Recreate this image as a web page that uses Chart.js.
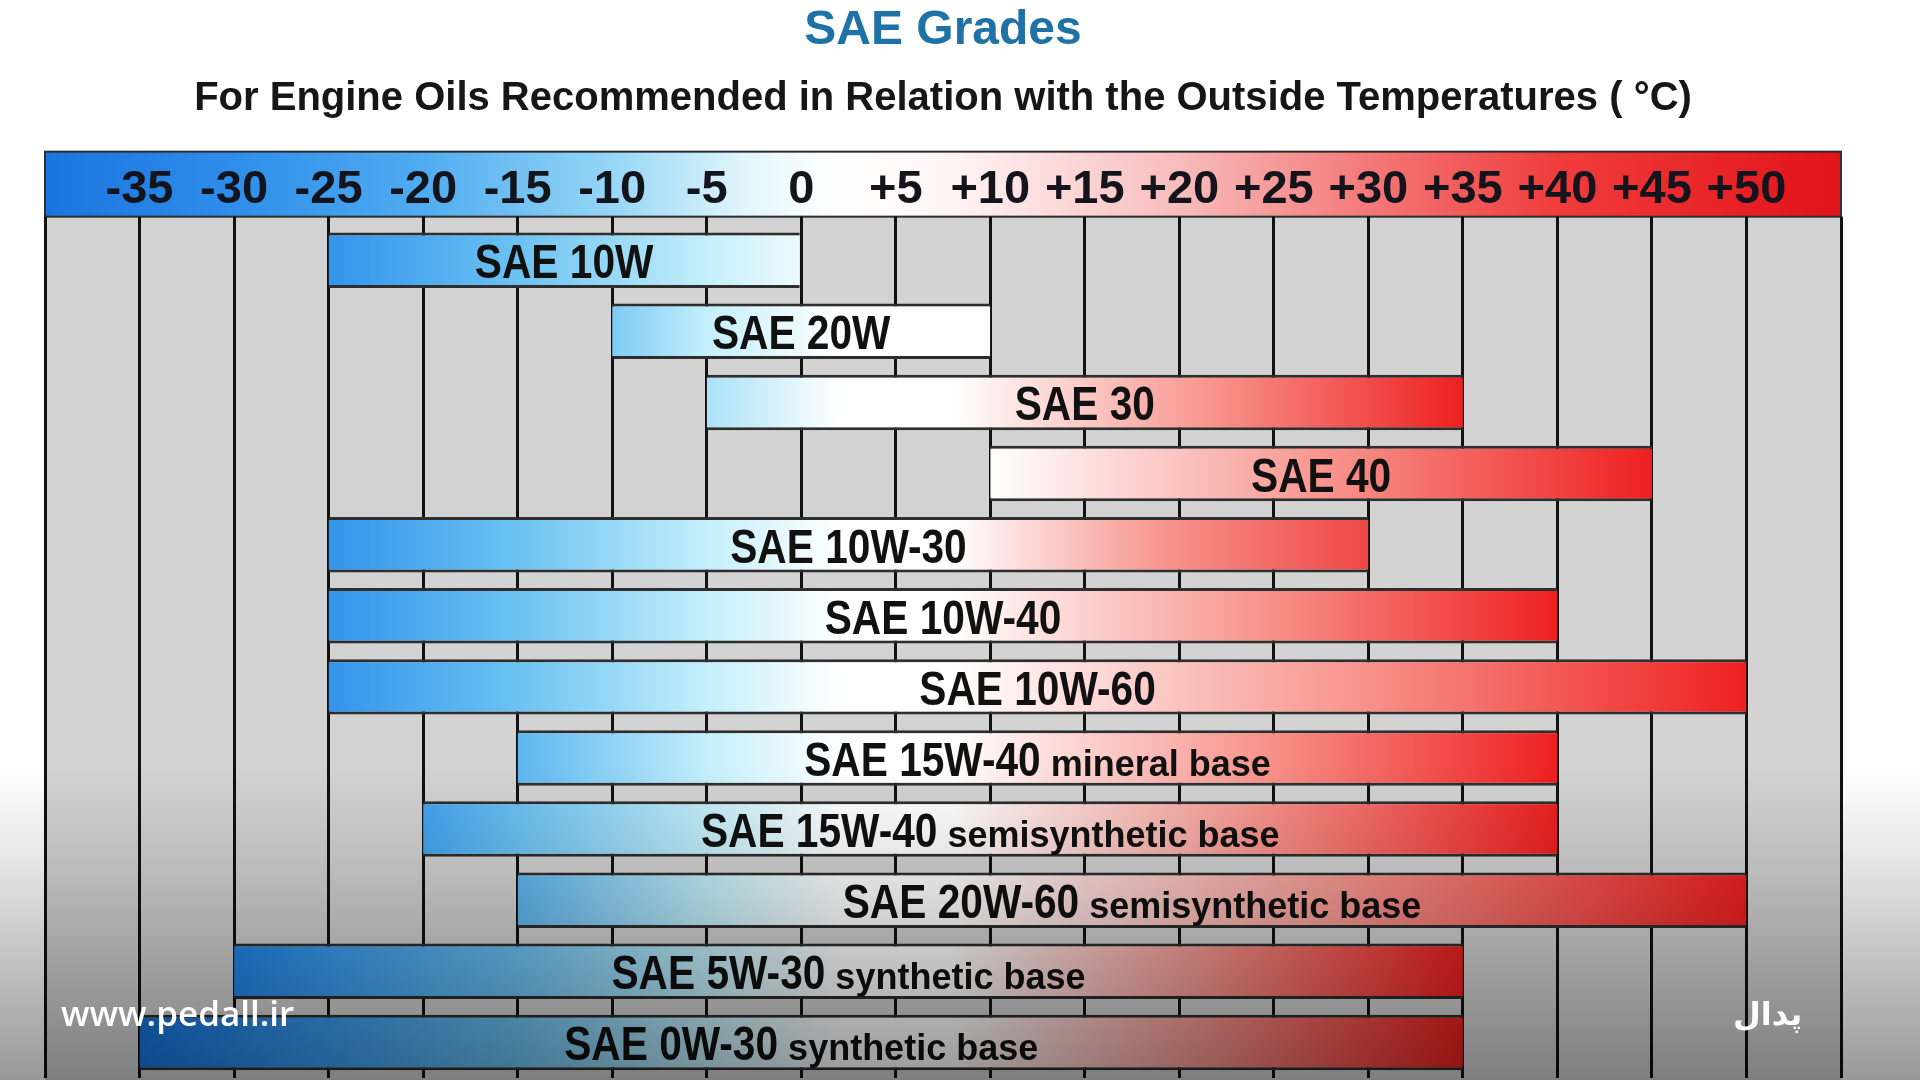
<!DOCTYPE html>
<html>
<head>
<meta charset="utf-8">
<title>SAE Grades</title>
<script src="https://cdn.jsdelivr.net/npm/chart.js@4.4.1/dist/chart.umd.min.js"></script>
<style>
  html, body { margin: 0; padding: 0; background: #fff; overflow: hidden; }
  #wrap { position: relative; width: 1920px; height: 1080px; }
  #shade {
    position: absolute; left: 0; top: 0; right: 0; bottom: 0; pointer-events: none;
    background: linear-gradient(to bottom, rgba(0,0,0,0) 0%, rgba(0,0,0,0) 71%,
      rgba(0,0,0,0.1) 80%, rgba(0,0,0,0.25) 90%, rgba(0,0,0,0.4) 100%);
  }
  .mark { position: absolute; color: #fff; white-space: nowrap; }
  #site { left: 61px; top: 989px; font: 600 35px "Open Sans", sans-serif; }
  #logo { left: 1733px; top: 995px; font: bold 32px "DejaVu Sans", sans-serif; }
</style>
</head>
<body>
<div id="wrap">
  <canvas id="saeChart"></canvas>
  <div id="shade"></div>
  <div class="mark" id="site">www.pedall.ir</div>
  <div class="mark" id="logo">پدال</div>
</div>
<script>
// oil grades, top to bottom
const grades = ["SAE 10W", "SAE 20W", "SAE 30", "SAE 40", "SAE 10W-30", "SAE 10W-40",
  "SAE 10W-60", "SAE 15W-40", "SAE 15W-40", "SAE 20W-60", "SAE 5W-30", "SAE 0W-30"];
const bases = ["", "", "", "", "", "", "", "mineral base", "semisynthetic base",
  "semisynthetic base", "synthetic base", "synthetic base"];
// usable outside temperature range (°C)
const minTemps = [-25, -10, -5, 10, -25, -25, -25, -15, -20, -15, -30, -35];
const maxTemps = [0, 10, 35, 45, 30, 40, 50, 40, 40, 50, 35, 35];
const tempTicks = [-35, -30, -25, -20, -15, -10, -5, 0, 5, 10, 15, 20, 25, 30, 35, 40, 45, 50];

const categories = grades.map((g, i) => (bases[i] ? g + " " + bases[i] : g));

const SANS = "'Liberation Sans', Arial, sans-serif";
const SQUEEZE = 0.83; // grade names are set in a condensed face
const BAND_H = 65;
const GAP = 8;

const BLUE_STOPS = [[-40, "#1570dc"], [-35, "#1f80e3"], [-25, "#3a9cf0"], [-15, "#6cc2f2"], [-5, "#c4effb"], [2, "#ffffff"]];
const HEADER_STOPS = [[-40, "#1a74de"], [-30, "#2f8eea"], [-20, "#50acf0"], [-10, "#96d6f6"], [-3, "#e2f6fc"],
  [2, "#ffffff"], [8, "#fff4f4"], [20, "#f8bcbc"], [30, "#f47878"], [40, "#f03c3c"], [55, "#e2121a"]];

function hexToRgb(h) {
  const n = parseInt(h.slice(1), 16);
  return [(n >> 16) & 255, (n >> 8) & 255, n & 255];
}

function blueAt(t) {
  if (t <= BLUE_STOPS[0][0]) return BLUE_STOPS[0][1];
  for (let k = 1; k < BLUE_STOPS.length; k++) {
    const [t1, c1] = BLUE_STOPS[k];
    if (t <= t1) {
      const [t0, c0] = BLUE_STOPS[k - 1];
      const f = (t - t0) / (t1 - t0);
      const a = hexToRgb(c0), b = hexToRgb(c1);
      return "rgb(" + a.map((v, j) => Math.round(v + (b[j] - v) * f)).join(",") + ")";
    }
  }
  return "#ffffff";
}

function barFill(context) {
  const chart = context.chart;
  if (!chart.chartArea || context.type !== "data") return "#ffffff";
  const i = context.dataIndex;
  const s = minTemps[i], e = maxTemps[i];
  const xs = chart.scales.x;
  const x0 = xs.getPixelForValue(s), x1 = xs.getPixelForValue(e);
  const g = chart.ctx.createLinearGradient(x0, 0, x1, 0);
  const pos = (t) => (t - s) / (e - s);

  g.addColorStop(0, s < 2 ? blueAt(s - 3) : "#ffffff");
  BLUE_STOPS.forEach(([t, c]) => {
    if (t > s + 2 && t < e) g.addColorStop(pos(t), c);
  });
  if (e > 10) {
    const w = Math.max(s, 8);
    if (w > s) g.addColorStop(pos(w), "#ffffff");
    g.addColorStop(pos((w + e) / 2), "#f8968f");
    g.addColorStop(1, e >= 35 ? "#ee2020" : "#f04646");
  } else {
    g.addColorStop(1, blueAt(e));
  }
  return g;
}

const backdrop = {
  id: "backdrop",
  beforeDraw(chart) {
    const { ctx, chartArea: a, scales: { x } } = chart;
    const bandBottom = a.top - GAP;
    const bandTop = bandBottom - BAND_H;
    const w = a.right - a.left;
    ctx.save();
    ctx.fillStyle = "#d3d3d3";
    ctx.fillRect(a.left, bandBottom, w, chart.height - bandBottom);
    const g = ctx.createLinearGradient(a.left, 0, a.right, 0);
    HEADER_STOPS.forEach(([t, c]) => g.addColorStop((x.getPixelForValue(t) - a.left) / w, c));
    ctx.fillStyle = g;
    ctx.fillRect(a.left, bandTop, w, BAND_H);
    ctx.strokeStyle = "#2e2e2e";
    ctx.lineWidth = 2;
    ctx.strokeRect(a.left, bandTop, w, BAND_H);
    ctx.restore();
  },
};

const barLabels = {
  id: "barLabels",
  afterDatasetsDraw(chart) {
    const { ctx } = chart;
    const bars = chart.getDatasetMeta(0).data;
    ctx.save();
    ctx.fillStyle = "#111111";
    ctx.textBaseline = "alphabetic";
    ctx.textAlign = "left";
    bars.forEach((bar, i) => {
      const main = grades[i];
      const tail = bases[i] ? " " + bases[i] : "";
      ctx.font = "bold 49px " + SANS;
      const w1 = ctx.measureText(main).width * SQUEEZE;
      ctx.font = "bold 36px " + SANS;
      const w2 = tail ? ctx.measureText(tail).width : 0;
      const cx = (bar.x + bar.base) / 2;
      const left = cx - (w1 + w2) / 2;
      const baseY = bar.y + 18;

      ctx.save();
      ctx.translate(left, baseY);
      ctx.scale(SQUEEZE, 1);
      ctx.font = "bold 49px " + SANS;
      ctx.fillText(main, 0, 0);
      ctx.restore();
      if (tail) {
        ctx.font = "bold 36px " + SANS;
        ctx.fillText(tail, left + w1, baseY);
      }
    });
    ctx.restore();
  },
};

function buildChart() {
  const canvas = document.getElementById("saeChart");
  new Chart(canvas.getContext("2d"), {
    type: "bar",
    data: {
      labels: categories,
      datasets: [
        {
          label: "Temperature range",
          data: minTemps.map((s, i) => [s, maxTemps[i]]),
          backgroundColor: barFill,
          borderColor: "#2e2e2e",
          borderWidth: { top: 3, bottom: 3, left: 0, right: 0 },
          borderSkipped: false,
          barPercentage: 1,
          categoryPercentage: 0.78,
        },
      ],
    },
    options: {
      indexAxis: "y",
      responsive: true,
      maintainAspectRatio: false,
      animation: false,
      layout: { padding: { left: 45, right: 79, top: 0, bottom: 2 } },
      plugins: {
        legend: { display: false },
        tooltip: { enabled: false },
        title: {
          display: true,
          text: "SAE Grades",
          color: "#1f72a6",
          font: { family: SANS, size: 48, weight: "bold", lineHeight: 1.2 },
          padding: { top: 2, bottom: 0 },
        },
        subtitle: {
          display: true,
          text: "For Engine Oils Recommended in Relation with the Outside Temperatures ( °C)",
          color: "#161616",
          font: { family: SANS, size: 40, weight: "bold", lineHeight: 1.2 },
          padding: { top: 15, bottom: 40 },
        },
      },
      scales: {
        x: {
          type: "linear",
          position: "top",
          min: -40,
          max: 55,
          ticks: {
            stepSize: 5,
            autoSkip: false,
            maxRotation: 0,
            padding: 0,
            color: "#14141c",
            font: { family: SANS, size: 47, weight: "bold", lineHeight: 1.15 },
            callback: (v) => (tempTicks.includes(v) ? (v > 0 ? "+" + v : String(v)) : ""),
          },
          grid: { color: "#111111", lineWidth: 3, tickLength: GAP, drawTicks: true },
          border: { display: false },
        },
        y: { display: false, grid: { display: false } },
      },
    },
    plugins: [backdrop, barLabels],
  });
}

if (document.fonts && document.fonts.load) {
  document.fonts.load("bold 46px 'Liberation Sans'").then(buildChart, buildChart);
} else {
  buildChart();
}
</script>
</body>
</html>
